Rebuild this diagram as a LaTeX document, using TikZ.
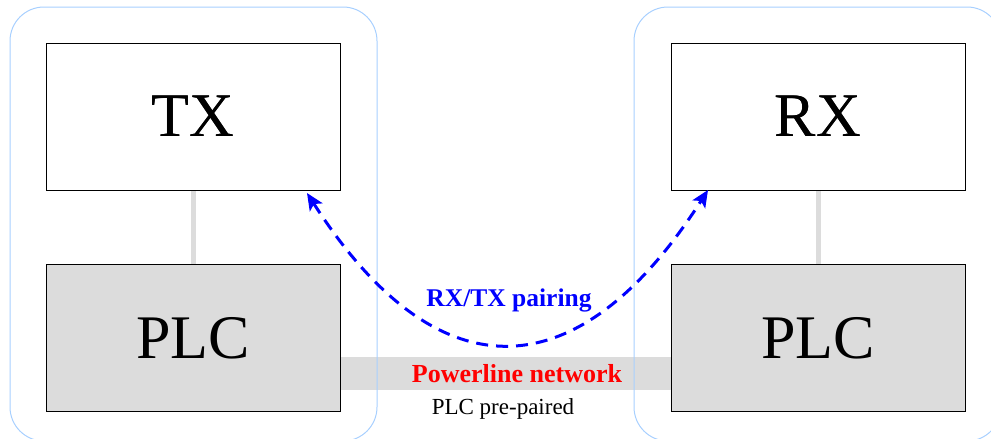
\documentclass[tikz,border=0pt]{standalone}
\usepackage{fontspec}
\setmainfont{Liberation Serif}
\usetikzlibrary{arrows.meta}
\definecolor{contblue}{HTML}{A8D0FF}
\definecolor{plcgray}{HTML}{DCDCDC}
\tikzset{
  container/.style={draw=contblue, line width=1pt, rounded corners=34pt},
  devbox/.style={draw=black, line width=1pt, minimum width=294pt, minimum height=147pt, inner sep=0pt, font=\fontsize{62}{62}\selectfont},
  plcbox/.style={devbox, fill=plcgray},
  link/.style={draw=plcgray, line width=5pt},
  band/.style={fill=plcgray, draw=none},
  pairing/.style={draw=blue, line width=3pt, dash pattern=on 12pt off 8pt, {Stealth[length=17pt,width=15pt,inset=4pt]}-{Stealth[length=17pt,width=15pt,inset=4pt]}},
}
\begin{document}
\begin{tikzpicture}[x=1pt,y=-1pt]
\useasboundingbox (0,0) rectangle (991,439);
% band
\fill[band] (340,357) rectangle (671,390);
\node[devbox] (tx) at (193,116.5) {TX};
\node[plcbox] (plcl) at (193,338) {PLC};
\node[devbox] (rx) at (818,116.5) {RX};
\node[plcbox] (plcr) at (818,338) {PLC};
\draw[link] (tx.south) -- (plcl.north);
\draw[link] (rx.south) -- (plcr.north);
\node[devbox] at (tx) {TX};
\node[plcbox] at (plcl) {PLC};
\node[devbox] at (rx) {RX};
\node[plcbox] at (plcr) {PLC};
% containers
\draw[container] (10,7) rectangle (377,441);
\draw[container] (634,7) rectangle (1001,441);
% pairing curve
\coordinate (ta) at (307,193);
\coordinate (ra) at (708,190);
\draw[pairing] (ta) .. controls (437,396) and (578,393) .. (ra);
\node[text=blue, font=\fontsize{25.5}{25.5}\selectfont\bfseries] (pl) at (509,300) {RX/TX pairing};
\node[text=red, font=\fontsize{26}{26}\selectfont\bfseries] (pn) at (517,374) {Powerline network};
\node[text=black, font=\fontsize{23}{23}\selectfont] (pp) at (503,409) {PLC pre-paired};
\end{tikzpicture}
\end{document}
